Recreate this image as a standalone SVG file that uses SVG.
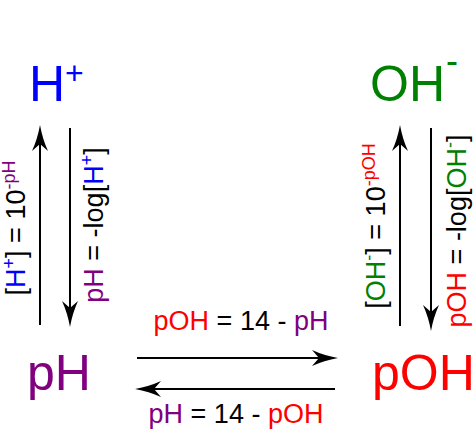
<svg xmlns="http://www.w3.org/2000/svg" width="474" height="432" viewBox="0 0 474 432">
<style>
text{font-family:"Liberation Sans",Arial,sans-serif;fill:#000}
.big{font-size:50px}
.lbl{font-size:27px}
.b{fill:#0000ff}
.g{fill:#008000}
.p{fill:#800080}
.r{fill:#ff0000}
.ar{stroke:#000;stroke-width:2;fill:none;marker-end:url(#ah)}
</style>
<defs>
<marker id="ah" markerUnits="userSpaceOnUse" markerWidth="30" markerHeight="20" viewBox="0 -10 30 20" refX="7" refY="0" orient="auto">
<path d="M26,0 Q12,-2.5 0,-8 L7,0 L0,8 Q12,2.5 26,0 Z" fill="#000"/>
</marker>
</defs>
<rect width="474" height="432" fill="#fff"/>
<g id="node-hplus"><text class="big b" x="29" y="101">H<tspan x="65" y="84" font-size="32">+</tspan></text></g>
<g id="node-ohminus"><text class="big g" x="370" y="101">OH<tspan x="446" y="73" font-size="36">-</tspan></text></g>
<g id="node-ph"><text class="big p" x="27" y="390">pH</text></g>
<g id="node-poh"><text class="big r" x="372" y="390" font-size="48">pOH</text></g>
<g id="connectors">
<line class="ar" x1="40" y1="325" x2="40" y2="144"/>
<line class="ar" x1="70" y1="128" x2="70" y2="308"/>
<line class="ar" x1="400" y1="326" x2="400" y2="144"/>
<line class="ar" x1="431" y1="128" x2="431" y2="312"/>
<line class="ar" x1="137" y1="358" x2="319" y2="358"/>
<line class="ar" x1="335" y1="389" x2="154" y2="389"/>
</g>
<g id="labels">
<text class="lbl" text-anchor="middle" transform="translate(25,228) rotate(-90)">[<tspan class="b">H</tspan><tspan class="b" font-size="18" dy="-10">+</tspan><tspan dy="10">] = 10</tspan><tspan class="p" font-size="18" dy="-10">-pH</tspan></text>
<text class="lbl" text-anchor="middle" transform="translate(103,225) rotate(-90)"><tspan class="p">pH</tspan> = -log[<tspan class="b">H</tspan><tspan class="b" font-size="18" dy="-10">+</tspan><tspan dy="10">]</tspan></text>
<text class="lbl" text-anchor="middle" transform="translate(385,226) rotate(-90)">[<tspan class="g">OH</tspan><tspan class="g" font-size="18" dy="-10">-</tspan><tspan dy="10">] = 10</tspan><tspan class="r" font-size="18" dy="-10">-pOH</tspan></text>
<text class="lbl" text-anchor="middle" transform="translate(466,231) rotate(-90)"><tspan class="r">pOH</tspan> = -log[<tspan class="g">OH</tspan><tspan class="g" font-size="18" dy="-10">-</tspan><tspan dy="10">]</tspan></text>
<text class="lbl" text-anchor="middle" x="241" y="330"><tspan class="r">pOH</tspan> = 14 - <tspan class="p">pH</tspan></text>
<text class="lbl" text-anchor="middle" x="236" y="423"><tspan class="p">pH</tspan> = 14 - <tspan class="r">pOH</tspan></text>
</g>
</svg>
